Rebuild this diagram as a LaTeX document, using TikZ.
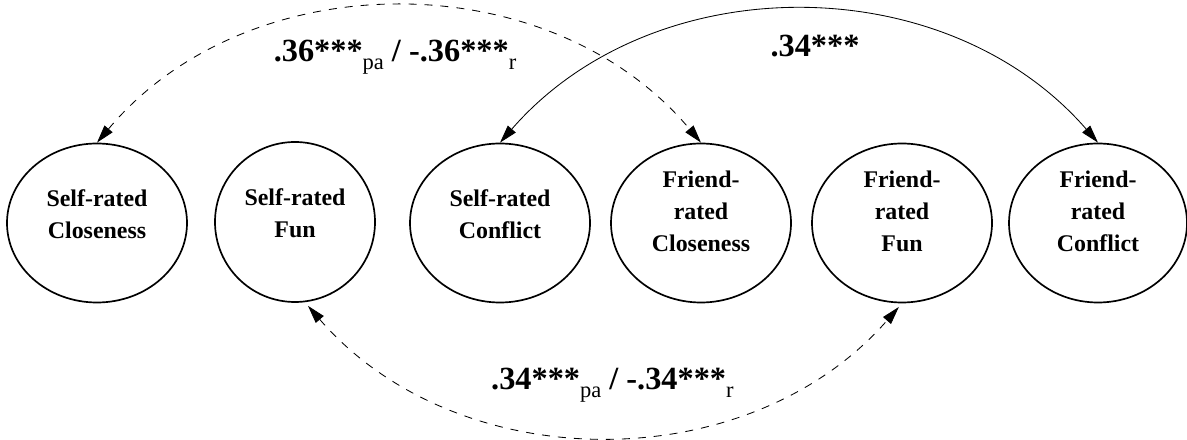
\documentclass[tikz,border=0pt]{standalone}
\usepackage{fontspec}
\setmainfont{Liberation Serif}
\usepackage{tikz}
\usetikzlibrary{shapes.geometric, arrows.meta, positioning, calc}

\newcommand{\lowtxt}[1]{\raisebox{-0.22em}{\fontsize{16}{16}\selectfont\mdseries #1}}

\tikzset{
    oval/.style={draw, ellipse, line width=1.2pt, minimum width=4.5cm, minimum height=3.975cm, inner sep=0pt},
    ovaltext/.style={font=\fontsize{17}{22.8}\selectfont\bfseries, align=center, inner sep=0pt},
    coef/.style={font=\fontsize{23}{26}\selectfont\bfseries, anchor=base, inner sep=0pt},
    tipboth/.style={{Triangle[length=0.45cm, width=0.26cm]}-{Triangle[length=0.45cm, width=0.26cm]}},
    solidlink/.style={tipboth, line width=0.6pt},
    dashlink/.style={tipboth, line width=0.6pt, dash pattern=on 0.2cm off 0.2cm}
}

\begin{document}
\begin{tikzpicture}
    \useasboundingbox (0, 0) rectangle (29.675, 11);

    % Ellipses
    \node[oval] (scl) at (2.425, 5.425) {};
    \node[oval, minimum width=4.0cm, minimum height=4.0cm] (sfu) at (7.375, 5.45) {};
    \node[oval] (scf) at (12.5, 5.425) {};
    \node[oval] (fcl) at (17.525, 5.425) {};
    \node[oval] (ffu) at (22.55, 5.425) {};
    \node[oval, minimum width=4.45cm] (ffc) at (27.45, 5.425) {};

    \node[ovaltext] (scl-t) at ([yshift=0.22cm]scl.center) {Self-rated\\Closeness};
    \node[ovaltext] (sfu-t) at ([yshift=0.22cm]sfu.center) {Self-rated\\Fun};
    \node[ovaltext] (scf-t) at ([yshift=0.22cm]scf.center) {Self-rated\\Conflict};
    \node[ovaltext] (fcl-t) at ([yshift=0.3cm]fcl.center) {Friend-\\rated\\Closeness};
    \node[ovaltext] (ffu-t) at ([yshift=0.3cm]ffu.center) {Friend-\\rated\\Fun};
    \node[ovaltext] (ffc-t) at ([yshift=0.3cm]ffc.center) {Friend-\\rated\\Conflict};

    % Correlations
    \draw[dashlink] (scl.north) to[bend left=50] (fcl.north);
    \draw[solidlink] (scf.north) to[bend left=49] (ffc.north);
    \draw[dashlink, shorten <=0.12cm, shorten >=0.12cm] (sfu.-83) to[bend right=49] (ffu.south);

    \node[coef] (r-cl) at (9.875, 9.45) {.36***\lowtxt{pa} / -.36***\lowtxt{r}};
    \node[coef] (r-cf) at (20.375, 9.575) {.34***};
    \node[coef] (r-fu) at (15.31, 1.25) {.34***\lowtxt{pa} / -.34***\lowtxt{r}};
\end{tikzpicture}
\end{document}
